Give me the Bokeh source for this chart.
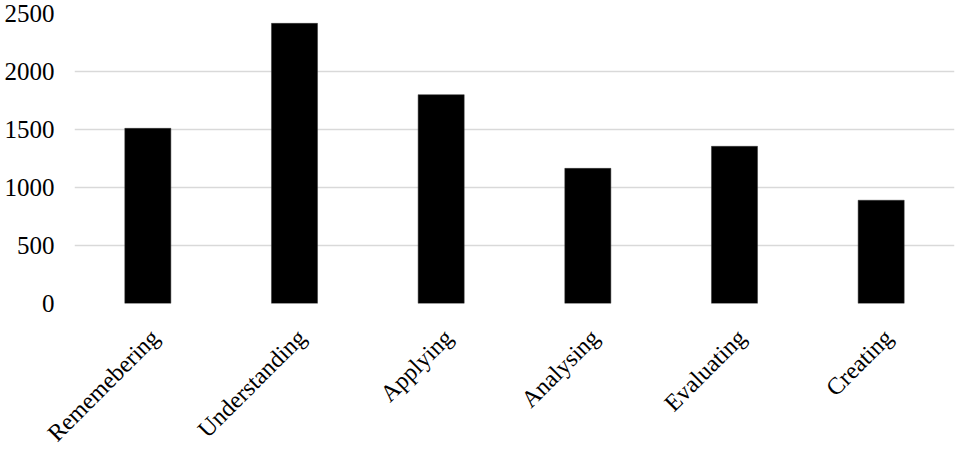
from math import pi
from bokeh.plotting import figure
from bokeh.models import Range1d, FixedTicker, ColumnDataSource, LinearAxis
from bokeh.embed import file_html
from bokeh.resources import INLINE

categories = ["Rememebering", "Understanding", "Applying", "Analysing", "Evaluating", "Creating"]
counts = [1510, 2415, 1800, 1165, 1355, 890]
y_ticks = [0, 500, 1000, 1500, 2000, 2500]

FONT = "Liberation Serif"

n = len(categories)
xpos = [i + 0.5 for i in range(n)]  # category slot centres
shift = 0.05  # label shift to the right, in category units (style only)

src = ColumnDataSource(data=dict(x=xpos, cat=categories, val=counts))

p = figure(
    x_range=Range1d(0, n),
    y_range=Range1d(0, 2500),
    width=956, height=459,
    output_backend="svg", toolbar_location=None,
    min_border_left=74, min_border_right=2, min_border_top=13, min_border_bottom=156,
)
p.extra_x_ranges = {"lab": Range1d(-shift, n - shift)}
p.vbar(x="x", top="val", width=0.314, source=src, fill_color="black", line_color="#333333", line_width=0.5)

p.outline_line_color = None
p.xgrid.grid_line_color = None
p.ygrid.grid_line_color = "#d9d9d9"
p.ygrid.grid_line_width = 1.5
p.yaxis.ticker = FixedTicker(ticks=y_ticks)
p.yaxis.axis_line_color = None
p.yaxis.major_tick_line_color = None
p.yaxis.minor_tick_line_color = None
p.yaxis.major_label_standoff = 14
p.yaxis.major_label_text_font = FONT
p.yaxis.major_label_text_font_size = "25px"
p.yaxis.major_label_text_color = "black"

p.xaxis.visible = False

lab_axis = LinearAxis(
    x_range_name="lab",
    ticker=FixedTicker(ticks=xpos),
    major_label_overrides={t: c for t, c in zip(xpos, categories)},
    major_label_orientation=pi / 4,
    major_label_standoff=24,
    major_label_text_font=FONT,
    major_label_text_font_size="24px",
    major_label_text_color="black",
    axis_line_color=None,
    major_tick_line_color=None,
    minor_tick_line_color=None,
)
p.add_layout(lab_axis, "below")

open("out.html", "w").write(file_html(p, INLINE))
